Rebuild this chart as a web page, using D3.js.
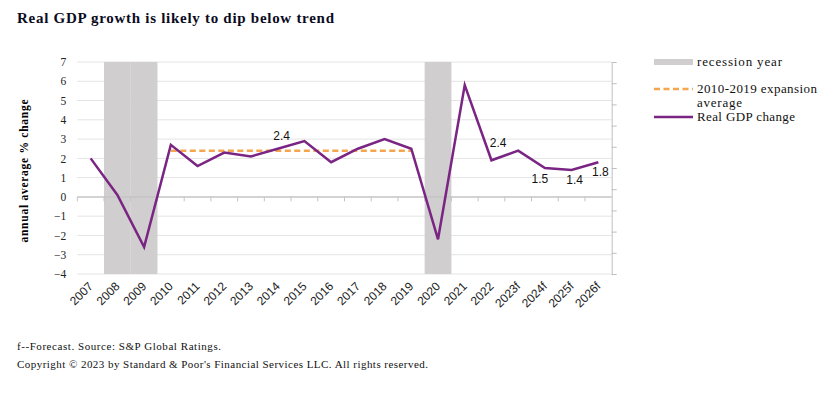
<!DOCTYPE html>
<html>
<head>
<meta charset="utf-8">
<script src="https://cdn.jsdelivr.net/npm/d3@7"></script>
<style>
  html, body { margin: 0; padding: 0; background: #fff; }
  svg { display: block; }
</style>
</head>
<body>
<svg id="chart" width="831" height="393"></svg>
<script>
// ---- data ----
const categories = ["2007","2008","2009","2010","2011","2012","2013","2014","2015","2016","2017","2018","2019","2020","2021","2022","2023f","2024f","2025f","2026f"];
const gdpChange = [2.0, 0.1, -2.6, 2.7, 1.6, 2.3, 2.1, 2.5, 2.9, 1.8, 2.5, 3.0, 2.5, -2.2, 5.8, 1.9, 2.4, 1.5, 1.4, 1.8];
const recession = [0, 1, 1, 0, 0, 0, 0, 0, 0, 0, 0, 0, 0, 1, 0, 0, 0, 0, 0, 0];
const expansionAvg = [null, null, null, 2.4, 2.4, 2.4, 2.4, 2.4, 2.4, 2.4, 2.4, 2.4, 2.4, null, null, null, null, null, null, null];
const yTicks = [-4, -3, -2, -1, 0, 1, 2, 3, 4, 5, 6, 7];
const dataLabels = [
  { cat: "2014", value: 2.4, text: "2.4", dx: 4, dy: -14 },
  { cat: "2023f", value: 2.4, text: "2.4", dx: -20, dy: -7 },
  { cat: "2024f", value: 1.5, text: "1.5", dx: -5, dy: 12 },
  { cat: "2025f", value: 1.4, text: "1.4", dx: 3, dy: 11 },
  { cat: "2026f", value: 1.8, text: "1.8", dx: 2, dy: 11 }
];
const titleText = "Real GDP growth is likely to dip below trend";
const yAxisTitle = "annual average % change";
const legendItems = ["recession year", "2010-2019 expansion", "Real GDP change"];
const footnotes = ["f--Forecast. Source: S&P Global Ratings.",
  "Copyright \u00A9 2023 by Standard & Poor's Financial Services LLC. All rights reserved."];

// ---- layout ----
const svg = d3.select("#chart");
const plot = { left: 77.3, right: 611.7, top: 62, bottom: 274 };
const purple = "#7a2483";
const orange = "#f4a54d";
const grey = "#d0cece";
const serif = "'Liberation Serif', 'Times New Roman', serif";
const sans = "'Liberation Sans', Arial, sans-serif";

const x = d3.scaleBand().domain(categories).range([plot.left, plot.right]).padding(0);
const y = d3.scaleLinear().domain([-4, 7]).range([plot.bottom, plot.top]);
const y2 = d3.scaleLinear().domain([0, 1]).range([plot.bottom, plot.top]);
const cx = c => x(c) + x.bandwidth() / 2;

// title
svg.append("text").attr("x", 17).attr("y", 22.5)
  .attr("font-family", serif).attr("font-weight", "bold").attr("font-size", 15)
  .attr("textLength", 317).attr("lengthAdjust", "spacing")
  .attr("fill", "#0b0b1e").text(titleText);

// gridlines
svg.append("g").selectAll("line").data(yTicks.filter(d => d !== 0)).join("line")
  .attr("x1", plot.left).attr("x2", plot.right)
  .attr("y1", d => y(d)).attr("y2", d => y(d))
  .attr("stroke", "#e4e4e4").attr("stroke-width", 1);

// recession bars (secondary axis 0..1)
svg.append("g").selectAll("rect").data(categories.map((c, i) => ({ c, v: recession[i] })).filter(d => d.v > 0))
  .join("rect")
  .attr("x", d => x(d.c)).attr("width", x.bandwidth())
  .attr("y", d => y2(d.v)).attr("height", d => y2(0) - y2(d.v))
  .attr("fill", grey);

// zero axis line with category ticks
svg.append("line").attr("x1", plot.left).attr("x2", plot.right)
  .attr("y1", y(0)).attr("y2", y(0)).attr("stroke", "#c4c4c4").attr("stroke-width", 1.5);
svg.append("g").selectAll("line").data(categories).join("line")
  .attr("x1", c => x(c)).attr("x2", c => x(c))
  .attr("y1", y(0)).attr("y2", y(0) + 4.5)
  .attr("stroke", "#c4c4c4").attr("stroke-width", 1);

// left axis labels
const yAxis = d3.axisLeft(y).tickValues(yTicks).tickSize(0).tickPadding(0);
const gy = svg.append("g").attr("transform", `translate(${plot.left - 11},0)`).call(yAxis);
gy.select(".domain").remove();
gy.selectAll("text").attr("font-family", serif).attr("font-size", 11.5).attr("fill", "#222");

// right axis (secondary, unlabeled)
const yAxis2 = d3.axisRight(y2).ticks(10).tickSize(5).tickSizeOuter(0).tickFormat("");
const gy2 = svg.append("g").attr("transform", `translate(${plot.right},0)`).call(yAxis2);
gy2.select(".domain").attr("stroke", "#bfbfbf");
gy2.selectAll(".tick line").attr("stroke", "#bfbfbf");

// x labels (low position)
svg.append("g").selectAll("text").data(categories).join("text")
  .attr("transform", c => `translate(${cx(c) + 3},${plot.bottom + 13}) rotate(-45)`)
  .attr("text-anchor", "end")
  .attr("font-family", sans).attr("font-size", 12).attr("fill", "#222")
  .text(c => c);

// expansion average dashed line
const avgLine = d3.line().defined(d => d.v !== null).x(d => cx(d.c)).y(d => y(d.v));
svg.append("path").datum(categories.map((c, i) => ({ c, v: expansionAvg[i] })))
  .attr("d", avgLine).attr("fill", "none")
  .attr("stroke", orange).attr("stroke-width", 2.5).attr("stroke-dasharray", "6,3.5");

// GDP line
const gdpLine = d3.line().x(d => cx(d.c)).y(d => y(d.v));
svg.append("path").datum(categories.map((c, i) => ({ c, v: gdpChange[i] })))
  .attr("d", gdpLine).attr("fill", "none")
  .attr("stroke", purple).attr("stroke-width", 2.5).attr("stroke-linejoin", "miter");

// data labels
svg.append("g").selectAll("text").data(dataLabels).join("text")
  .attr("x", d => cx(d.cat) + d.dx).attr("y", d => y(d.value) + d.dy)
  .attr("text-anchor", "middle").attr("dominant-baseline", "middle")
  .attr("font-family", sans).attr("font-size", 12).attr("fill", "#111")
  .text(d => d.text);

// y axis title
svg.append("text")
  .attr("transform", `translate(28,171) rotate(-90)`)
  .attr("text-anchor", "middle")
  .attr("font-family", serif).attr("font-weight", "bold").attr("font-size", 11.5)
  .attr("textLength", 143).attr("lengthAdjust", "spacing")
  .attr("fill", "#000").text(yAxisTitle);

// legend
const lg = svg.append("g").attr("font-family", serif).attr("font-size", 13).attr("fill", "#111");
const lx = 654, lw = 39, tx = 697;
lg.append("rect").attr("x", lx).attr("y", 59).attr("width", lw).attr("height", 6).attr("fill", grey);
lg.append("text").attr("x", tx).attr("y", 66).attr("textLength", 85).attr("lengthAdjust", "spacing").text(legendItems[0]);
lg.append("line").attr("x1", lx).attr("x2", lx + lw).attr("y1", 89).attr("y2", 89)
  .attr("stroke", orange).attr("stroke-width", 2.5).attr("stroke-dasharray", "6,3.5");
lg.append("text").attr("x", tx).attr("y", 93).attr("textLength", 120).attr("lengthAdjust", "spacing").text(legendItems[1]);
lg.append("text").attr("x", tx).attr("y", 107).attr("textLength", 45).attr("lengthAdjust", "spacing").text("average");
lg.append("line").attr("x1", lx).attr("x2", lx + lw).attr("y1", 117).attr("y2", 117)
  .attr("stroke", purple).attr("stroke-width", 2.5);
lg.append("text").attr("x", tx).attr("y", 121).attr("textLength", 98).attr("lengthAdjust", "spacing").text(legendItems[2]);

// footnotes
const footLengths = [204, 411];
svg.append("g").selectAll("text").data(footnotes).join("text")
  .attr("x", 17).attr("y", (d, i) => 350 + i * 18)
  .attr("font-family", serif).attr("font-size", 11).attr("fill", "#111")
  .attr("textLength", (d, i) => footLengths[i]).attr("lengthAdjust", "spacing")
  .text(d => d);
</script>
</body>
</html>
